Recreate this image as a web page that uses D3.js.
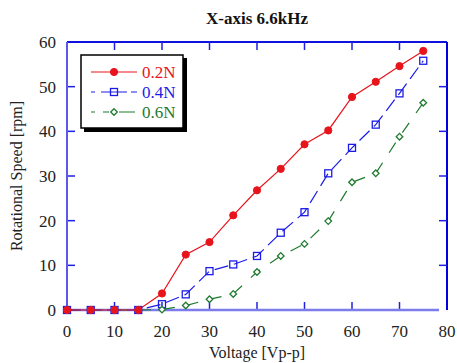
<!DOCTYPE html>
<html lang="en">
<head>
    <meta charset="UTF-8">
    <title>X-axis 6.6kHz</title>
    <script src="https://cdn.jsdelivr.net/npm/d3@7"></script>
    <style>
        body { margin: 0; background: #fff; }
        text { font-family: "Liberation Serif", "DejaVu Serif", serif; }
    </style>
</head>
<body>
<script>
    var voltage = [0, 5, 10, 15, 20, 25, 30, 35, 40, 45, 50, 55, 60, 65, 70, 75];
    var speed02 = [0, 0, 0, 0, 3.7, 12.4, 15.2, 21.2, 26.8, 31.6, 37.1, 40.2, 47.7, 51.1, 54.6, 58.0];
    var speed04 = [0, 0, 0, 0, 1.3, 3.5, 8.7, 10.2, 12.1, 17.3, 21.9, 30.6, 36.3, 41.5, 48.5, 55.8];
    var speed06 = [0, 0, 0, 0, 0.1, 1.0, 2.4, 3.6, 8.5, 12.1, 14.8, 19.9, 28.6, 30.6, 38.8, 46.4];
    var seriesNames = ["0.2N", "0.4N", "0.6N"];
    var xTicks = [0, 10, 20, 30, 40, 50, 60, 70, 80];
    var yTicks = [0, 10, 20, 30, 40, 50, 60];

    var width = 457, height = 363;
    var margin = {top: 42, right: 10, bottom: 53, left: 67};

    var svg = d3.select("body").append("svg")
        .attr("width", width)
        .attr("height", height);

    var x = d3.scaleLinear().domain([0, 80]).range([margin.left, width - margin.right]);
    var y = d3.scaleLinear().domain([0, 60]).range([height - margin.bottom, margin.top]);

    // frame: top and right darker
    svg.append("line").attr("x1", x(0)).attr("x2", x(80)).attr("y1", y(60)).attr("y2", y(60))
        .attr("stroke", "#1010e0").attr("stroke-width", 2);
    svg.append("line").attr("x1", x(80)).attr("x2", x(80)).attr("y1", y(60)).attr("y2", y(0))
        .attr("stroke", "#0000e0").attr("stroke-width", 2);

    // inner ticks on all four sides
    var tickLen = 8;
    svg.append("g").selectAll("line").data(xTicks.slice(1, -1)).enter().append("line")
        .attr("x1", function (d) { return x(d); }).attr("x2", function (d) { return x(d); })
        .attr("y1", y(0)).attr("y2", y(0) - tickLen)
        .attr("stroke", "#2020e0").attr("stroke-width", 1.5);
    svg.append("g").selectAll("line").data(xTicks.slice(1, -1)).enter().append("line")
        .attr("x1", function (d) { return x(d); }).attr("x2", function (d) { return x(d); })
        .attr("y1", y(60)).attr("y2", y(60) + tickLen)
        .attr("stroke", "#2020e0").attr("stroke-width", 1.5);
    svg.append("g").selectAll("line").data(yTicks.slice(1, -1)).enter().append("line")
        .attr("x1", x(0)).attr("x2", x(0) + tickLen)
        .attr("y1", function (d) { return y(d); }).attr("y2", function (d) { return y(d); })
        .attr("stroke", "#2020e0").attr("stroke-width", 1.5);
    svg.append("g").selectAll("line").data(yTicks.slice(1, -1)).enter().append("line")
        .attr("x1", x(80)).attr("x2", x(80) - tickLen)
        .attr("y1", function (d) { return y(d); }).attr("y2", function (d) { return y(d); })
        .attr("stroke", "#2020e0").attr("stroke-width", 1.5);

    // left and bottom axes (lighter blue)
    svg.append("line").attr("x1", x(0)).attr("x2", x(0)).attr("y1", y(60)).attr("y2", y(0))
        .attr("stroke", "#5a5ae6").attr("stroke-width", 2);
    svg.append("line").attr("x1", x(0)).attr("x2", x(80) - 8).attr("y1", y(0)).attr("y2", y(0))
        .attr("stroke", "#7c7cec").attr("stroke-width", 2.5);

    // tick labels
    svg.append("g").selectAll("text").data(xTicks).enter().append("text")
        .attr("x", function (d) { return x(d); })
        .attr("y", y(0) + 27)
        .attr("text-anchor", "middle")
        .attr("font-size", 17)
        .attr("fill", "#222")
        .text(function (d) { return d; });
    svg.append("g").selectAll("text").data(yTicks).enter().append("text")
        .attr("x", x(0) - 11)
        .attr("y", function (d) { return y(d) + 6; })
        .attr("text-anchor", "end")
        .attr("font-size", 17)
        .attr("fill", "#222")
        .text(function (d) { return d; });

    // axis titles
    svg.append("text")
        .attr("x", (x(0) + x(80)) / 2).attr("y", 358)
        .attr("text-anchor", "middle").attr("font-size", 16).attr("fill", "#222")
        .text("Voltage [Vp-p]");
    svg.append("text")
        .attr("transform", "translate(22," + ((y(0) + y(60)) / 2) + ") rotate(-90)")
        .attr("text-anchor", "middle").attr("font-size", 16).attr("fill", "#222")
        .text("Rotational Speed [rpm]");
    svg.append("text")
        .attr("x", 257).attr("y", 24)
        .attr("text-anchor", "middle").attr("font-size", 17).attr("font-weight", "bold").attr("fill", "#111")
        .text("X-axis 6.6kHz");

    var series = [
        {name: seriesNames[0], values: speed02, color: "#e8141c", dash: null, marker: "circle"},
        {name: seriesNames[1], values: speed04, color: "#1c1ce8", dash: "14,6", marker: "square"},
        {name: seriesNames[2], values: speed06, color: "#1f7a2e", dash: "12,12", marker: "diamond"}
    ];

    var line = d3.line()
        .x(function (d, i) { return x(voltage[i]); })
        .y(function (d) { return y(d); });

    function drawMarker(g, type, color) {
        if (type === "circle") {
            g.append("circle").attr("r", 3.6).attr("fill", color).attr("stroke", color);
        } else if (type === "square") {
            g.append("rect").attr("x", -3.5).attr("y", -3.5).attr("width", 7).attr("height", 7)
                .attr("fill", "none").attr("stroke", color).attr("stroke-width", 1.3);
        } else {
            g.append("path").attr("d", "M0,-3.3L3.3,0L0,3.3L-3.3,0Z")
                .attr("fill", "white").attr("stroke", color).attr("stroke-width", 1.3);
        }
    }

    // lines, drawn back to front
    series.slice().reverse().forEach(function (s) {
        svg.append("path")
            .datum(s.values)
            .attr("d", line)
            .attr("fill", "none")
            .attr("stroke", s.color)
            .attr("stroke-width", 1.2)
            .attr("stroke-dasharray", s.dash);
    });
    [series[1], series[2], series[0]].forEach(function (s) {
        svg.append("g").selectAll("g").data(s.values).enter().append("g")
            .attr("transform", function (d, i) { return "translate(" + x(voltage[i]) + "," + y(d) + ")"; })
            .each(function () { drawMarker(d3.select(this), s.marker, s.color); });
    });

    // legend
    var lg = svg.append("g");
    lg.append("rect").attr("x", 84).attr("y", 58).attr("width", 103).attr("height", 74).attr("fill", "#000");
    lg.append("rect").attr("x", 81).attr("y", 55).attr("width", 102).attr("height", 73)
        .attr("fill", "white").attr("stroke", "#000").attr("stroke-width", 1.5);
    series.forEach(function (s, i) {
        var ly = 72 + i * 20;
        lg.append("line").attr("x1", 91).attr("x2", 137).attr("y1", ly).attr("y2", ly)
            .attr("stroke", s.color).attr("stroke-width", 1.2)
            .attr("stroke-dasharray", i === 0 ? null : (i === 1 ? "4,6,26" : "4,8,6,10,16"));
        var m = lg.append("g").attr("transform", "translate(114," + ly + ")");
        drawMarker(m, s.marker, s.color);
        lg.append("text").attr("x", 142).attr("y", ly + 6)
            .attr("font-size", 17).attr("fill", s.color)
            .text(s.name);
    });
</script>
</body>
</html>
